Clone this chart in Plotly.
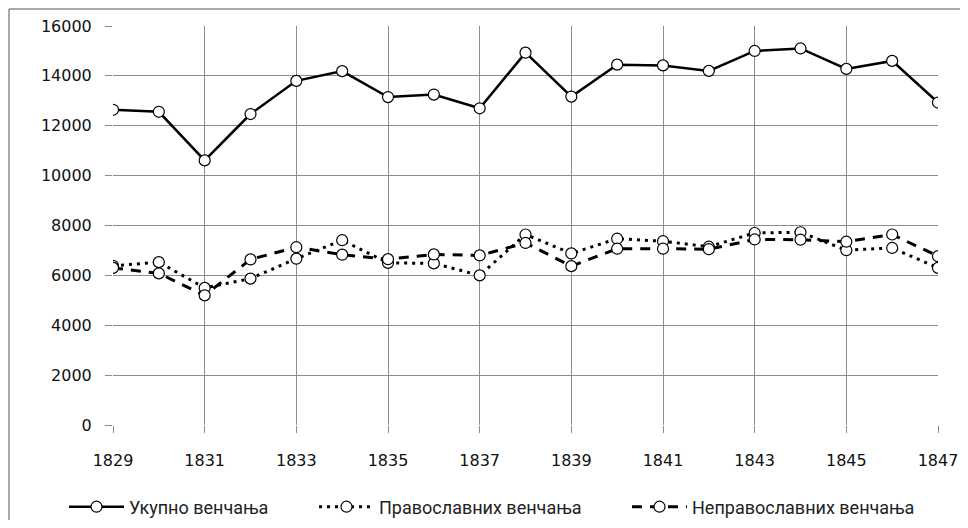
import plotly.graph_objects as go

years = list(range(1829, 1848))
total = [12640, 12560, 10610, 12470, 13800, 14190, 13150, 13250, 12700, 14930,
         13170, 14450, 14420, 14200, 15000, 15100, 14280, 14600, 12930]
orthodox = [6380, 6530, 5500, 5870, 6670, 7410, 6500, 6480, 6000, 7640,
            6880, 7470, 7370, 7150, 7700, 7730, 7010, 7100, 6300]
non_orthodox = [6300, 6080, 5200, 6640, 7130, 6830, 6650, 6840, 6800, 7300,
                6370, 7070, 7070, 7050, 7440, 7430, 7350, 7640, 6770]

names = ["Укупно венчања", "Православних венчања", "Неправославних венчања"]
y_ticks = list(range(0, 16001, 2000))
y_labels = [str(v) for v in y_ticks]
x_ticks = list(range(1829, 1848, 2))
x_labels = [str(v) for v in x_ticks]

marker = dict(symbol="circle", size=11, color="white", line=dict(color="black", width=1.2))

fig = go.Figure()
fig.add_trace(go.Scatter(x=years, y=total, name=names[0], mode="lines+markers",
                         line=dict(color="black", width=2.5), marker=marker, legend="legend"))
fig.add_trace(go.Scatter(x=years, y=orthodox, name=names[1], mode="lines+markers",
                         line=dict(color="black", width=3, dash="3px,5px"), marker=marker,
                         legend="legend2"))
fig.add_trace(go.Scatter(x=years, y=non_orthodox, name=names[2], mode="lines+markers",
                         line=dict(color="black", width=3, dash="10px,8px"), marker=marker,
                         legend="legend3"))

tick_font = dict(family="DejaVu Sans, sans-serif", size=16, color="#111")
leg_font = dict(family="Roboto, sans-serif", size=18, color="#222")

# page is offset 8px by the body margin; figure is 960x512
FW, FH = 960, 512
OFF = 8
PW, PH = 825, 399


def px_x(page_x):
    return (page_x - 113) / PW


def px_y(page_y):
    return (425 - page_y) / PH


def legend_at(page_x):
    return dict(orientation="h", xref="container", yref="container",
                x=(page_x - OFF) / FW, xanchor="left",
                y=1 - (507 - OFF) / FH, yanchor="middle",
                font=leg_font, itemwidth=55, bgcolor="rgba(0,0,0,0)")


fig.update_layout(
    width=FW, height=FH,
    margin=dict(l=105, r=30, t=18, b=95, autoexpand=False),
    paper_bgcolor="white", plot_bgcolor="white",
    showlegend=True,
    legend=legend_at(64),
    legend2=legend_at(314),
    legend3=legend_at(627),
    xaxis=dict(range=[1829, 1847], tickvals=x_ticks, ticktext=x_labels, showgrid=True,
               gridcolor="#8c8c8c", gridwidth=1, zeroline=False, showline=False,
               ticks="outside", ticklen=7, tickcolor="#8c8c8c", tickfont=tick_font,
               ticklabelstandoff=14),
    yaxis=dict(range=[0, 16000], tickvals=y_ticks, ticktext=y_labels, showgrid=True,
               gridcolor="#8c8c8c", gridwidth=1, zeroline=False, showline=False,
               ticks="outside", ticklen=7, tickcolor="#8c8c8c", tickfont=tick_font,
               ticklabelstandoff=10),
    shapes=[
        dict(type="line", xref="paper", yref="paper", x0=px_x(9), x1=px_x(975),
             y0=px_y(9), y1=px_y(9), line=dict(color="#8c8c8c", width=1.5)),
        dict(type="line", xref="paper", yref="paper", x0=px_x(9), x1=px_x(9),
             y0=px_y(9), y1=px_y(540), line=dict(color="#8c8c8c", width=1.5)),
    ],
)

fig.write_html("out.html")
